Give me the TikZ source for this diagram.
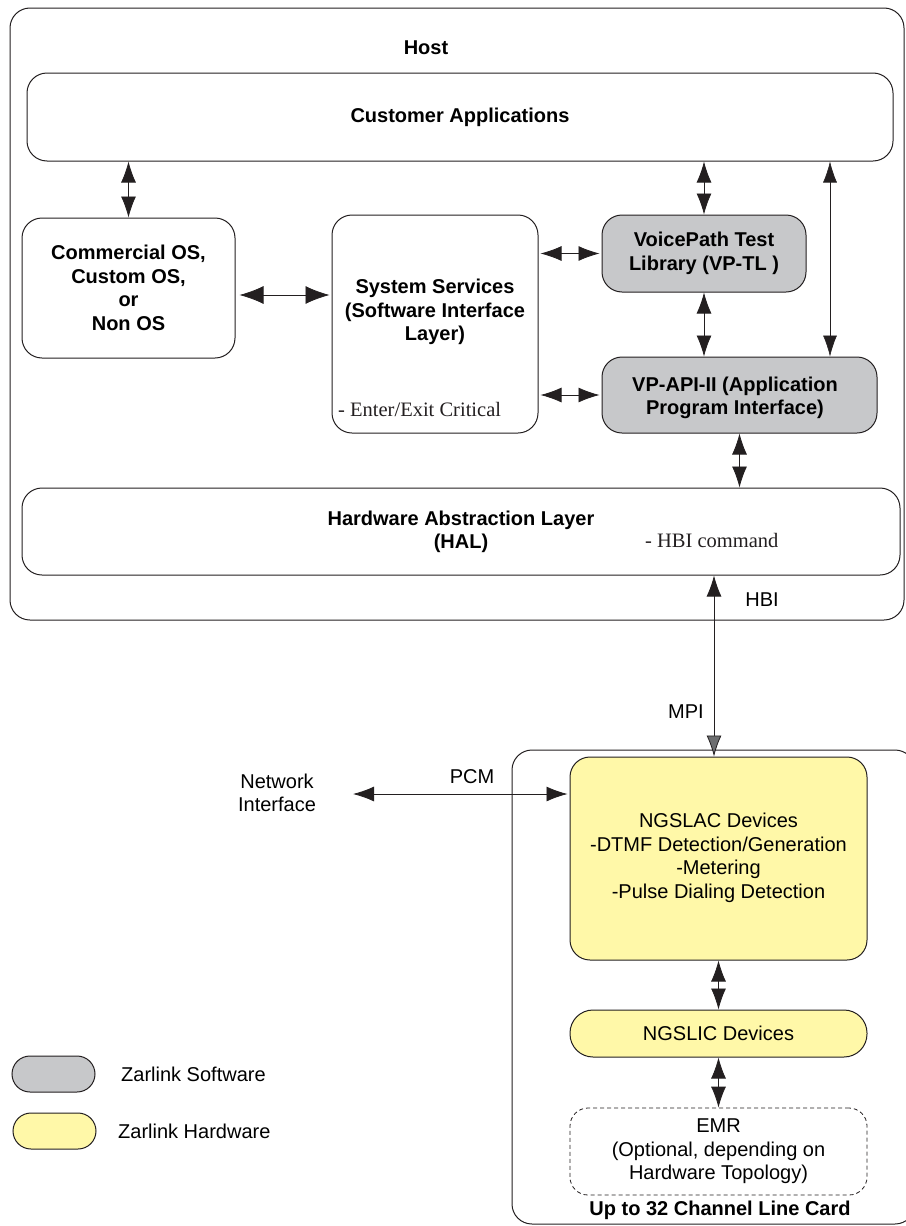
\documentclass[tikz,border=0pt]{standalone}
\usepackage{fontspec}
\setmainfont{Liberation Sans}
\newfontfamily\notefont{Liberation Serif}
\usetikzlibrary{arrows.meta}
\definecolor{linec}{HTML}{231F20}
\definecolor{swgray}{HTML}{C7C8CA}
\definecolor{hwyellow}{HTML}{FFF8A8}
\definecolor{tipgray}{HTML}{6D6E70}
\begin{document}
\begin{tikzpicture}[x=1pt,y=-1pt,
  box/.style={draw=linec, line width=1pt, rounded corners=20pt, inner sep=0pt, align=center,
              font=\bfseries\fontsize{20}{23.5}\selectfont},
  swbox/.style={box, fill=swgray},
  hwbox/.style={box, fill=hwyellow, font=\fontsize{20}{23.5}\selectfont},
  lbl/.style={inner sep=0pt, align=center, font=\fontsize{20}{23.5}\selectfont},
  blbl/.style={lbl, font=\bfseries\fontsize{20}{23.5}\selectfont},
  note/.style={inner sep=0pt, anchor=west, font=\notefont\fontsize{20.5}{23}\selectfont, text=linec},
  arr/.style={{Latex[length=21pt,width=15pt]}-{Latex[length=21pt,width=15pt]}, line width=0.8pt, draw=linec},
  bigarr/.style={{Latex[length=24pt,width=18pt]}-{Latex[length=24pt,width=18pt]}, line width=0.8pt, draw=linec},
  thinarr/.style={{Latex[length=21pt,width=14pt]}-{Latex[length=21pt,width=14pt]}, line width=0.6pt, draw=linec}
]
\useasboundingbox (0,0) rectangle (905,1226);

% Host
\node[box, minimum width=894, minimum height=612] (host) at (457,314) {};
\node[blbl] (hostlbl) at (426,48) {Host};

\node[box, minimum width=866, minimum height=88] (apps) at (460,117) {Customer Applications};
\node[box, minimum width=213, minimum height=140] (os) at (128.5,288) {Commercial OS,\\Custom OS,\\or\\Non OS};
\node[box, minimum width=206, minimum height=218] (ss) at (435,324) {};
\node[blbl] (sstext) at (435,312) {System Services\\(Software Interface\\Layer)};
\node[note] (ssnote) at (338,409) {- Enter/Exit Critical};
\node[swbox, minimum width=204, minimum height=77] (vtl) at (704,253.5) {VoicePath Test\\Library (VP-TL )};
\node[swbox, minimum width=275, minimum height=76] (api) at (739.5,395) {};
\node[blbl] (apitext) at (735,398) {VP-API-II (Application\\Program Interface)};
\node[box, minimum width=878, minimum height=87] (hal) at (461,531.5) {};
\node[blbl] (haltext) at (461,532) {Hardware Abstraction Layer\\(HAL)};
\node[note] (halnote) at (645,540) {- HBI command};
\node[lbl] (hbi) at (762,600) {HBI};
\node[lbl] (mpi) at (686,712) {MPI};

% line card
\node[box, minimum width=403, minimum height=474] (card) at (713.5,987) {};
\node[hwbox, minimum width=297, minimum height=203] (slac) at (718.5,858.5) {};
\node[lbl] (slactext) at (718.5,858) {NGSLAC Devices\\-DTMF Detection/Generation\\-Metering\\-Pulse Dialing Detection};
\node[hwbox, rounded corners=23pt, minimum width=297, minimum height=47] (slic) at (718.5,1033.5) {NGSLIC Devices};
\node[box, dashed, dash pattern=on 4pt off 3pt, line width=0.8pt, rounded corners=18pt, font=\fontsize{20}{23.5}\selectfont,
      minimum width=297, minimum height=87] (emr) at (718.5,1151.5) {EMR\\(Optional, depending on\\Hardware Topology)};
\node[blbl] (cardlbl) at (720,1210) {Up to 32 Channel Line Card};

\node[lbl] (netif) at (277,793) {Network\\Interface};
\node[lbl] (pcm) at (472,777) {PCM};

% legend
\node[swbox, rounded corners=18pt, minimum width=83, minimum height=36] (legsw) at (53.5,1074) {};
\node[lbl, anchor=west] (legswt) at (121,1074) {Zarlink Software};
\node[hwbox, rounded corners=18pt, minimum width=83, minimum height=36] (leghw) at (54.5,1131) {};
\node[lbl, anchor=west] (leghwt) at (118,1131) {Zarlink Hardware};

% connectors
\draw[arr] (os.north |- apps.south) -- (os.north);
\draw[bigarr, shorten <=4pt, shorten >=2pt] ([yshift=-7pt]os.east) -- ([yshift=-7pt]os.east -| ss.west);
\draw[arr, shorten <=2pt, shorten >=2pt] (vtl.west -| ss.east) -- (vtl.west);
\draw[arr, shorten <=2pt, shorten >=2pt] (api.west -| ss.east) -- (api.west);
\draw[arr] (vtl.north |- apps.south) -- (vtl.north);
\draw[arr] (vtl.south) -- (vtl.south |- api.north);
\draw[thinarr] ([xshift=90.5pt]api.north |- apps.south) -- ([xshift=90.5pt]api.north);
\draw[arr] (api.south) -- (api.south |- hal.north);
\draw[{Latex[length=21pt,width=15pt]}-{Latex[length=21pt,width=15pt,fill=tipgray]}, line width=0.8pt, draw=linec]
  ([xshift=-4.5pt]slac.north |- hal.south) -- ([xshift=-4.5pt]slac.north);
\coordinate (pcmL) at (353,794);
\draw[arr, shorten >=2pt] (pcmL) -- (pcmL -| slac.west);
\draw[arr] (slac.south) -- (slic.north);
\draw[arr] (slic.south) -- (emr.north);
\end{tikzpicture}
\end{document}
